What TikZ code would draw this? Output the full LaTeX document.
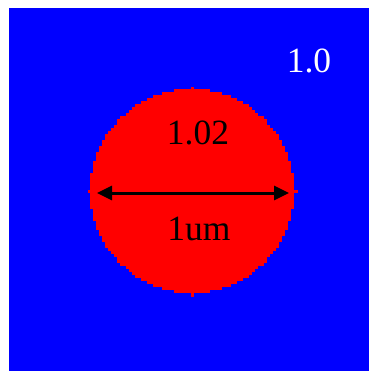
\documentclass[tikz,border=0pt]{standalone}
\usepackage{fontspec}
\setmainfont{Liberation Serif}
\usetikzlibrary{arrows.meta}
\definecolor{fieldblue}{HTML}{0000FF}
\definecolor{particlered}{HTML}{FF0000}

\begin{document}
\begin{tikzpicture}[
    x=1bp,y=-1bp,
    >={Triangle[length=15bp,width=14bp]},
    value/.style={
        font=\fontsize{35.5bp}{40bp}\selectfont,
        inner sep=0pt,
        anchor=base,
    },
    dimline/.style={<->,line width=3bp,color=black},
]
\useasboundingbox (0,0) rectangle (369,371);

% === Background medium ===
\fill[fieldblue] (9,8) rectangle (369,371);

% === Particle (grid cells, 3bp rows) ===
\foreach \k in {0,...,67}{
    \pgfmathsetmacro\dy{89+3*\k+1.5-191}
    \pgfmathsetmacro\half{3*round(sqrt(102*102-\dy*\dy)/3)}
    \fill[particlered] (192-\half,89+3*\k) rectangle (192+\half,92.2+3*\k);
}
% small marks on the axes
\fill[particlered] (88,189.5) rectangle (92,192.5);
\fill[particlered] (292,189.5) rectangle (297.5,192.5);
\fill[particlered] (191,86.5) rectangle (194,90);
\fill[particlered] (191,292) rectangle (194,296.5);

% === Labels ===
\node[value,text=white] (outer) at (309,72) {1.0};
\node[value] (inner) at (198,144) {1.02};
\node[value] (size) at (199,240) {1um};

% === Diameter ===
\coordinate (dleft) at (97,193);
\coordinate (dright) at (289,193);
\draw[dimline] (dleft) -- (dright);

\end{tikzpicture}
\end{document}
